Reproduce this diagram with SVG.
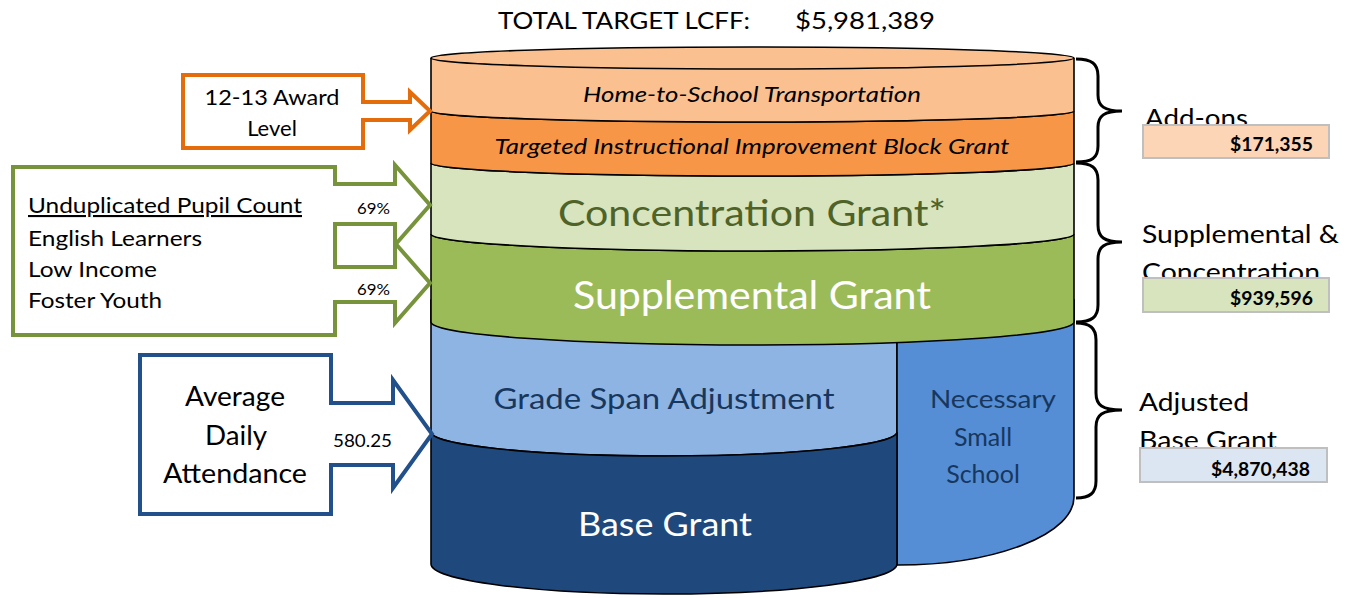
<svg xmlns="http://www.w3.org/2000/svg" width="1346" height="598" viewBox="0 0 1346 598">
<style>
text{font-family:Lato,"Liberation Sans",sans-serif;}
.band{stroke:#000;stroke-width:1.6;}
.brace{fill:none;stroke:#000;stroke-width:3;}
.lbl{font-size:25px;fill:#000;}
.val{font-size:19px;font-weight:bold;fill:#000;text-anchor:end;}
.vbox{stroke:#BFBFBF;stroke-width:2;}
.call{fill:#fff;stroke-width:4;stroke-linejoin:miter;}
</style>
<rect width="1346" height="598" fill="#fff"/>
<g id="title">
<text x="498" y="29" font-size="24" textLength="252" lengthAdjust="spacingAndGlyphs">TOTAL TARGET LCFF:</text>
<text x="795" y="29" font-size="24" textLength="140" lengthAdjust="spacingAndGlyphs">$5,981,389</text>
</g>
<g id="cylinder">
<g id="grade-span">
<path class="band" fill="#8EB4E3" d="M431,300 H897 V432 A233,24 0 0 1 431,432 Z"/>
<text x="664" y="409" font-size="29" fill="#17375E" text-anchor="middle" textLength="341" lengthAdjust="spacingAndGlyphs">Grade Span Adjustment</text>
</g>
<g id="necessary-small-school">
<path class="band" fill="#558ED5" d="M897,300 H1074 V497 A176,68 0 0 1 897,565 Z"/>
<text x="993" y="408" font-size="25" fill="#17375E" text-anchor="middle" textLength="126" lengthAdjust="spacingAndGlyphs">Necessary</text>
<text x="983" y="446" font-size="25" fill="#17375E" text-anchor="middle">Small</text>
<text x="983" y="483" font-size="25" fill="#17375E" text-anchor="middle">School</text>
</g>
<g id="base-grant">
<path class="band" fill="#1F497D" d="M431,432 A233,24 0 0 0 897,432 V564 A233,30 0 0 1 431,564 Z"/>
<text x="665" y="536" font-size="32" fill="#fff" text-anchor="middle" textLength="174" lengthAdjust="spacingAndGlyphs">Base Grant</text>
</g>
<g id="supplemental">
<path class="band" fill="#9BBB59" d="M431,234 A321.5,17 0 0 0 1074,234 V322 A321.5,23 0 0 1 431,322 Z"/>
<text x="752" y="309" font-size="38" fill="#fff" text-anchor="middle" textLength="358" lengthAdjust="spacingAndGlyphs">Supplemental Grant</text>
</g>
<g id="concentration">
<path class="band" fill="#D7E4BD" d="M431,163 A321.5,13 0 0 0 1074,163 V234 A321.5,17 0 0 1 431,234 Z"/>
<text x="752" y="226" font-size="36" fill="#4F6228" text-anchor="middle" textLength="388" lengthAdjust="spacingAndGlyphs">Concentration Grant*</text>
</g>
<g id="targeted">
<path class="band" fill="#F79646" d="M431,111 A321.5,11 0 0 0 1074,111 V163 A321.5,13 0 0 1 431,163 Z"/>
<text x="752" y="154" font-size="21" font-style="italic" fill="#000" text-anchor="middle" textLength="515" lengthAdjust="spacingAndGlyphs">Targeted Instructional Improvement Block Grant</text>
</g>
<g id="home-to-school">
<path class="band" fill="#FAC090" d="M431,58 A321.5,11 0 0 1 1074,58 V111 A321.5,11 0 0 1 431,111 Z"/>
<path class="band" fill="none" d="M431,58 A321.5,11 0 0 0 1074,58"/>
<text x="752" y="102" font-size="21" font-style="italic" fill="#000" text-anchor="middle" textLength="338" lengthAdjust="spacingAndGlyphs">Home-to-School Transportation</text>
</g>
</g>
<g id="award-callout">
<path class="call" stroke="#E46C0A" d="M183,75 H363 V102 H410 V92 L430,111 L410,130 V120 H363 V148 H183 Z"/>
<text x="272" y="105" font-size="22" text-anchor="middle" textLength="135" lengthAdjust="spacingAndGlyphs">12-13 Award</text>
<text x="272" y="136" font-size="22" text-anchor="middle">Level</text>
</g>
<g id="pupil-callout">
<path class="call" stroke="#77933C" d="M13,167 H335 V184 H395 V165 L430,205 L395,245 V224 H335 V267 H395 V243 L430,283 L395,323 V302 H335 V335 H13 Z"/>
<text x="28" y="213" font-size="21" text-decoration="underline" textLength="274" lengthAdjust="spacingAndGlyphs">Unduplicated Pupil Count</text>
<text x="28" y="246" font-size="21" textLength="174" lengthAdjust="spacingAndGlyphs">English Learners</text>
<text x="28" y="277" font-size="21" textLength="129" lengthAdjust="spacingAndGlyphs">Low Income</text>
<text x="28" y="308" font-size="21" textLength="134" lengthAdjust="spacingAndGlyphs">Foster Youth</text>
<text x="357" y="214" font-size="16" textLength="33" lengthAdjust="spacingAndGlyphs">69%</text>
<text x="357" y="295" font-size="16" textLength="33" lengthAdjust="spacingAndGlyphs">69%</text>
</g>
<g id="ada-callout">
<path class="call" stroke="#22508A" d="M140,355 H331 V403 H393 V380 L432,434 L393,488 V465 H331 V514 H140 Z"/>
<text x="235" y="406" font-size="26" text-anchor="middle" textLength="100" lengthAdjust="spacingAndGlyphs">Average</text>
<text x="236" y="445" font-size="26" text-anchor="middle" textLength="62" lengthAdjust="spacingAndGlyphs">Daily</text>
<text x="235" y="483" font-size="26" text-anchor="middle" textLength="144" lengthAdjust="spacingAndGlyphs">Attendance</text>
<text x="333" y="447" font-size="18" textLength="59" lengthAdjust="spacingAndGlyphs">580.25</text>
</g>
<g id="connectors">
<path class="brace" d="M1076,59 C1092,59 1098,64 1098,76 V95 C1098,106 1104,111 1122,111 C1104,111 1098,116 1098,127 V146 C1098,158 1092,162 1076,162"/>
<path class="brace" d="M1076,163 C1092,163 1098,168 1098,180 V225 C1098,237 1104,242 1122,242 C1104,242 1098,247 1098,259 V305 C1098,317 1092,322 1076,322"/>
<path class="brace" d="M1076,323 C1090,323 1096,328 1096,340 V393 C1096,405 1102,410 1122,410 C1102,410 1096,415 1096,427 V481 C1096,493 1090,498 1076,498"/>
</g>
<g id="addons-label">
<text class="lbl" x="1145" y="127" textLength="103" lengthAdjust="spacingAndGlyphs">Add-ons</text>
<rect class="vbox" x="1143" y="125" width="186" height="33" fill="#FBD5B5"/>
<text class="val" x="1313" y="151" textLength="83" lengthAdjust="spacingAndGlyphs">$171,355</text>
</g>
<g id="supconc-label">
<text class="lbl" x="1142" y="243" textLength="197" lengthAdjust="spacingAndGlyphs">Supplemental &amp;</text>
<text class="lbl" x="1142" y="281" textLength="178" lengthAdjust="spacingAndGlyphs">Concentration</text>
<rect class="vbox" x="1143" y="278" width="186" height="34" fill="#D7E4BD"/>
<text class="val" x="1313" y="305" textLength="83" lengthAdjust="spacingAndGlyphs">$939,596</text>
</g>
<g id="adjbase-label">
<text class="lbl" x="1139" y="411" textLength="110" lengthAdjust="spacingAndGlyphs">Adjusted</text>
<text class="lbl" x="1139" y="449" textLength="138" lengthAdjust="spacingAndGlyphs">Base Grant</text>
<rect class="vbox" x="1140" y="448" width="187" height="34" fill="#DCE6F2"/>
<text class="val" x="1310" y="476" textLength="99" lengthAdjust="spacingAndGlyphs">$4,870,438</text>
</g>
</svg>
